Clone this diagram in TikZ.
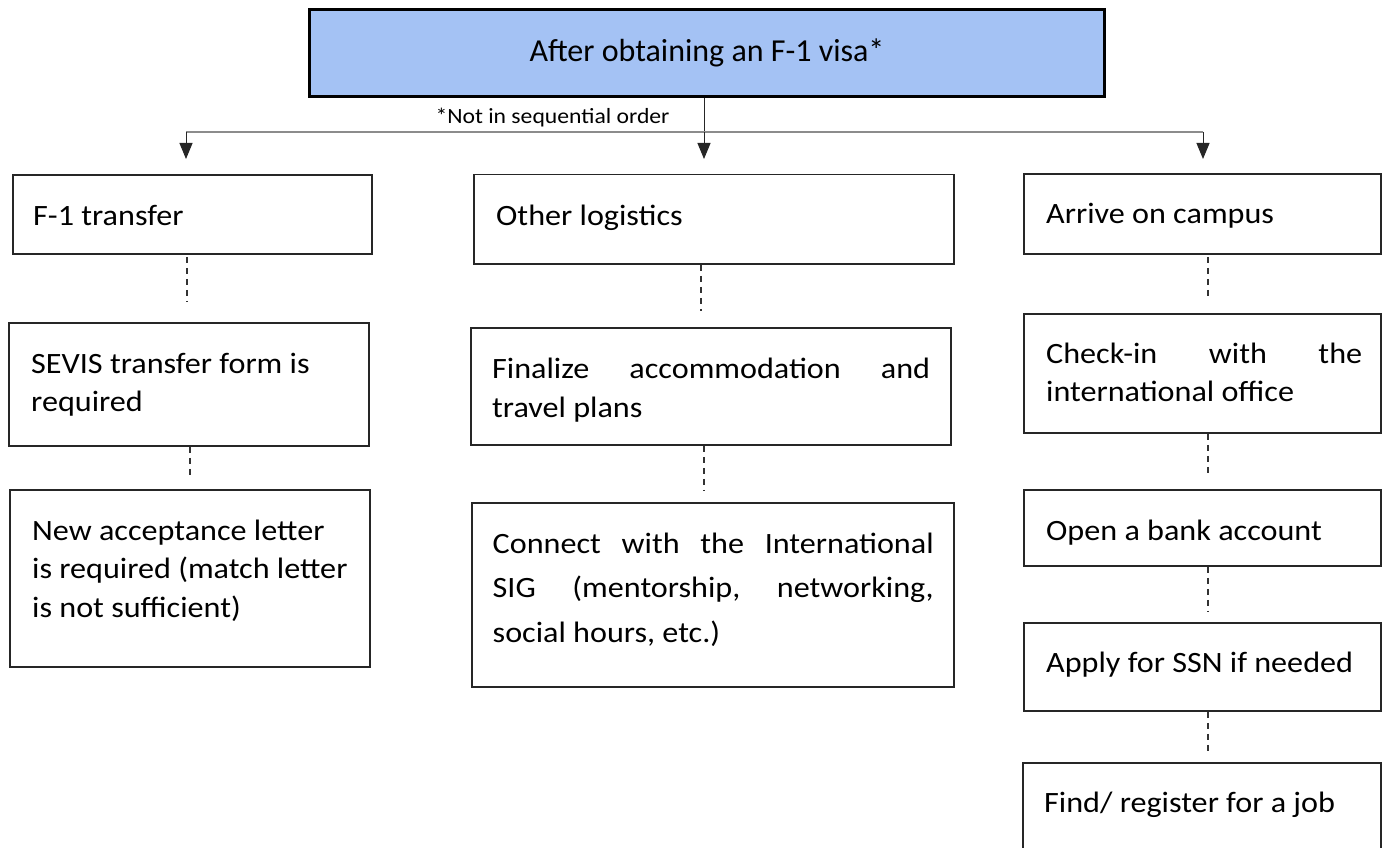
\documentclass[tikz,border=0pt]{standalone}
\usepackage{fontspec}
\setmainfont{Carlito}
\newfontfamily\bodyfont{Carlito}[FakeStretch=1.09]
\usetikzlibrary{arrows.meta}
\definecolor{topblue}{HTML}{A4C2F4}
\tikzset{
  stepbox/.style={draw=black!85, line width=1.6pt, rectangle, inner sep=0pt},
  topbox/.style={draw=black, line width=3pt, fill=topblue, inner sep=0pt},
  titletxt/.style={inner sep=0pt, anchor=base, font=\fontsize{32}{38}\selectfont},
  txt/.style={inner sep=0pt, anchor=base west, align=flush left,
    font=\bodyfont\fontsize{29.5}{38.5}\selectfont},
  note/.style={inner sep=0pt, anchor=base, font=\bodyfont\fontsize{21.7}{26}\selectfont},
  dashline/.style={draw=black!80, line width=1.3pt, dash pattern=on 6pt off 5pt},
  bar/.style={draw=black!45, line width=1.3pt},
  shaft/.style={draw=black!85, line width=1pt},
  arr/.style={shaft, -{Triangle[width=13pt,length=16pt]}}
}
\begin{document}
\begin{tikzpicture}[x=1pt,y=-1pt]
\useasboundingbox (0,0) rectangle (1382,848);
\clip (0,0) rectangle (1382,848);

% top
\node[topbox, minimum width=795pt, minimum height=87pt] (top) at (706.5,53.5) {};
\node[titletxt] (ttl) at (707,62) {After obtaining an F-1 visa*};
\node[note] (nt) at (552.5,124) {*Not in sequential order};

\coordinate (hL) at (186,132);
\coordinate (hM) at (704,132);
\coordinate (hR) at (1203,132);
\coordinate (aL) at (186,159);
\coordinate (aM) at (704,159);
\coordinate (aR) at (1203,159);
\draw[shaft] (top.south -| hM) -- (hM);
\draw[bar] (hL) -- (hR);
\draw[arr] (hL) -- (aL);
\draw[arr] (hM) -- (aM);
\draw[arr] (hR) -- (aR);

% left column
\node[stepbox, minimum width=359pt, minimum height=79pt] (l1) at (192.5,214.5) {};
\node[stepbox, minimum width=360pt, minimum height=123pt] (l2) at (189,384.5) {};
\node[stepbox, minimum width=360pt, minimum height=177pt] (l3) at (190,578.5) {};
\node[txt] (tl1) at (33,225) {F-1 transfer};
\node[txt, text width=330pt] (tl2) at (31,373) {SEVIS transfer form is\\required};
\node[txt, text width=330pt] (tl3) at (32,540) {New acceptance letter\\is required (match letter\\is not sufficient)};

% middle column
\node[stepbox, minimum width=480pt, minimum height=89.5pt] (m1) at (714,219.25) {};
\node[stepbox, minimum width=480pt, minimum height=117pt] (m2) at (711,386.5) {};
\node[stepbox, minimum width=482pt, minimum height=184pt] (m3) at (713,595) {};
\node[txt] (tm1) at (496,225) {Other logistics};
\node[txt, text width=438pt, font=\bodyfont\fontsize{29.5}{39}\selectfont] (tm2) at (492,378) {Finalize\hfill accommodation\hfill and\\travel plans};
\node[txt, text width=441pt, font=\bodyfont\fontsize{29.5}{44.5}\selectfont] (tm3) at (492.5,553) {Connect\hfill with\hfill the\hfill International\\SIG\hfill (mentorship,\hfill networking,\\social hours, etc.)};

% right column
\node[stepbox, minimum width=357pt, minimum height=80pt] (r1) at (1202.5,214) {};
\node[stepbox, minimum width=357pt, minimum height=119pt] (r2) at (1202.5,373.5) {};
\node[stepbox, minimum width=357pt, minimum height=76pt] (r3) at (1202.5,528) {};
\node[stepbox, minimum width=357pt, minimum height=88pt] (r4) at (1202.5,667) {};
\node[stepbox, minimum width=358pt, minimum height=110pt] (r5) at (1202,818) {};
\node[txt] (tr1) at (1046,223) {Arrive on campus};
\node[txt, text width=316pt] (tr2) at (1046,363) {Check-in\hfill with\hfill the\\international office};
\node[txt] (tr3) at (1046,540) {Open a bank account};
\node[txt] (tr4) at (1046,672) {Apply for SSN if needed};
\node[txt] (tr5) at (1044,812) {Find/ register for a job};

% dashed connectors
\coordinate (xL1) at (187,0);
\coordinate (xL2) at (190,0);
\coordinate (xM1) at (701,0);
\coordinate (xM2) at (704,0);
\coordinate (xR) at (1208,0);
\draw[dashline, shorten <=2pt, shorten >=20pt] (l1.south -| xL1) -- (l2.north -| xL1);
\draw[dashline, shorten >=13pt] (l2.south -| xL2) -- (l3.north -| xL2);
\draw[dashline, shorten >=16pt] (m1.south -| xM1) -- (m2.north -| xM1);
\draw[dashline, shorten >=11pt] (m2.south -| xM2) -- (m3.north -| xM2);
\draw[dashline, shorten <=2pt, shorten >=14pt] (r1.south -| xR) -- (r2.north -| xR);
\draw[dashline, shorten >=12pt] (r2.south -| xR) -- (r3.north -| xR);
\draw[dashline, shorten >=11pt] (r3.south -| xR) -- (r4.north -| xR);
\draw[dashline, shorten >=9pt] (r4.south -| xR) -- (r5.north -| xR);
\end{tikzpicture}
\end{document}
